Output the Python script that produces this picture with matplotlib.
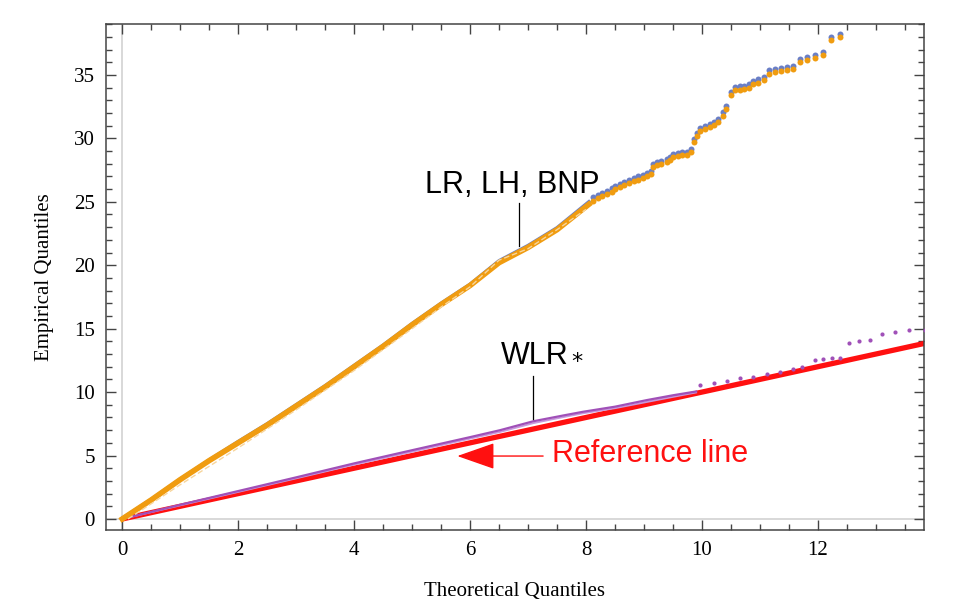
import matplotlib
matplotlib.use("Agg")
import matplotlib.pyplot as plt
from matplotlib.ticker import MultipleLocator

# LR / LH / BNP quantiles (dense part, drawn as lines)
dense_x = [0.0, 0.5, 1.0, 1.5, 2.0, 2.5, 3.0, 3.5, 4.0, 4.5, 5.0, 5.5, 6.0, 6.5, 7.0, 7.5, 8.05]
lh_dense_y = [0.0, 1.5, 3.1, 4.6, 6.0, 7.4, 8.9, 10.4, 12.0, 13.6, 15.3, 16.9, 18.4, 20.2, 21.4, 22.8, 24.8]
lr_dense_y = [0.05, 1.55, 3.15, 4.65, 6.1, 7.5, 9.0, 10.5, 12.1, 13.7, 15.4, 17.0, 18.5, 20.35, 21.55, 22.95, 25.0]
bnp_x = [0.1, 1.0, 2.0, 3.0, 4.0, 5.0, 5.5, 6.0, 6.5, 7.0, 7.5, 8.0]
bnp_y = [0.0, 2.7, 5.6, 8.6, 11.7, 15.0, 16.7, 18.3, 20.4, 21.3, 22.8, 24.4]

# LR / LH sparse tail (drawn as points)
tail_x = [8.12, 8.2, 8.28, 8.36, 8.44, 8.5, 8.58, 8.66, 8.74, 8.82, 8.9, 8.98,
          9.05, 9.12, 9.16, 9.22, 9.3, 9.39, 9.45, 9.5, 9.58, 9.66, 9.74, 9.81,
          9.86, 9.91, 9.97, 10.05, 10.14, 10.2, 10.28, 10.36, 10.42, 10.5, 10.57,
          10.66, 10.73, 10.81, 10.88, 10.97, 11.07, 11.16, 11.26, 11.36, 11.47,
          11.57, 11.69, 11.82, 11.95, 12.08, 12.22, 12.38]
lh_tail_y = [25.1, 25.3, 25.45, 25.6, 25.8, 26.0, 26.15, 26.3, 26.5, 26.6, 26.75, 26.9,
             27.05, 27.2, 27.75, 27.9, 28.0, 28.1, 28.3, 28.55, 28.6, 28.65, 28.7, 28.9,
             29.7, 30.2, 30.55, 30.7, 30.9, 31.05, 31.3, 31.8, 32.3, 33.4, 33.8,
             33.85, 33.9, 34.0, 34.3, 34.4, 34.6, 35.1, 35.2, 35.3, 35.4,
             35.45, 36.0, 36.2, 36.35, 36.55, 37.75, 37.95]
lr_tail_y = [25.35, 25.55, 25.7, 25.85, 26.05, 26.25, 26.4, 26.55, 26.75, 26.85, 27.0, 27.15,
             27.3, 27.45, 28.0, 28.15, 28.25, 28.35, 28.55, 28.8, 28.85, 28.9, 28.95, 29.15,
             29.95, 30.45, 30.8, 30.95, 31.15, 31.3, 31.55, 32.05, 32.55, 33.65, 34.05,
             34.1, 34.15, 34.25, 34.55, 34.65, 34.85, 35.35, 35.45, 35.55, 35.65,
             35.7, 36.25, 36.45, 36.6, 36.8, 38.0, 38.2]

# WLR* quantiles
wlr_x = [0.0, 1.0, 2.0, 3.0, 4.0, 5.0, 6.0, 6.52, 7.09, 7.6, 7.95, 8.5, 9.05, 9.5, 9.9]
wlr_y = [0.0, 1.12, 2.2, 3.28, 4.38, 5.42, 6.45, 7.0, 7.7, 8.15, 8.45, 8.85, 9.37, 9.75, 10.05]
wlr2_y = [0.0, 1.07, 2.13, 3.2, 4.28, 5.3, 6.33, 6.86, 7.55, 8.02, 8.33, 8.73, 9.22, 9.62, 9.97]
wlr_tail_x = [9.97, 10.2, 10.43, 10.66, 10.88, 11.12, 11.34, 11.57, 11.72, 11.95, 12.09,
              12.24, 12.38, 12.54, 12.71, 12.9, 13.1, 13.33, 13.57, 13.84]
wlr_tail_y = [10.55, 10.7, 10.9, 11.1, 11.2, 11.4, 11.6, 11.8, 12.0, 12.5, 12.6,
              12.65, 12.7, 13.9, 14.0, 14.1, 14.6, 14.75, 14.9, 14.9]

ref_x = [0.0, 13.84]
ref_y = [0.0, 13.84]

ORANGE = "#f09c10"
BLUE = "#6a7fc6"
PURPLE = "#a050b8"
RED = "#ff1010"
SERIF = ["Liberation Serif", "DejaVu Serif"]
SANS = ["Liberation Sans", "DejaVu Sans"]

fig = plt.figure(figsize=(9.55, 6.04), dpi=100)
ax = fig.add_axes([0.111, 0.1225, 0.8565, 0.8375])

ax.axhline(0, color="#d6d6d6", linewidth=1.3, zorder=0)
ax.axvline(0, color="#d6d6d6", linewidth=1.3, zorder=0)

# reference line
ax.plot(ref_x, ref_y, color=RED, linewidth=3.8, solid_capstyle="butt", zorder=2)

# WLR*
ax.plot(wlr_x, wlr2_y, color="#c898dc", linewidth=1.3, zorder=3)
ax.plot(wlr_x, wlr_y, color=PURPLE, linewidth=1.6, zorder=3)
ax.plot(wlr_tail_x, wlr_tail_y, linestyle="none", marker="o", markersize=3.0,
        color=PURPLE, markeredgewidth=0, zorder=3)

# LR, LH, BNP
ax.plot(dense_x, lr_dense_y, color=BLUE, linewidth=2.5, zorder=4)
ax.plot(dense_x, lh_dense_y, color=ORANGE, linewidth=4.0, zorder=5)
ax.plot(bnp_x, bnp_y, color="#f7d59c", linewidth=1.0, linestyle=(0, (4, 2)), zorder=6)
ax.plot(tail_x, lr_tail_y, linestyle="none", marker="o", markersize=4.3,
        color=BLUE, markeredgewidth=0, zorder=4)
ax.plot(tail_x, lh_tail_y, linestyle="none", marker="o", markersize=4.3,
        color=ORANGE, markeredgewidth=0, zorder=5)

# labels on the plot
ax.text(6.72, 26.3, "LR, LH, BNP", fontsize=22, family=SANS,
        ha="center", va="center", zorder=7)
ax.plot([6.85, 6.85], [24.9, 21.5], color="black", linewidth=0.9, zorder=7)
ax.text(7.12, 12.85, "WLR", fontsize=22, family=SANS,
        ha="center", va="center", zorder=7)
ax.text(7.84, 12.9, "\u204e", fontsize=16, family=["DejaVu Sans"],
        ha="center", va="center", zorder=7)
ax.plot([7.09, 7.09], [11.3, 7.85], color="black", linewidth=0.9, zorder=7)
ax.text(9.1, 5.15, "Reference line", fontsize=22, family=SANS, color=RED,
        ha="center", va="center", zorder=7)
ax.annotate("", xy=(5.78, 4.96), xytext=(7.26, 4.96),
            arrowprops=dict(arrowstyle="-|>,head_length=1.2,head_width=0.42",
                            mutation_scale=20, color=RED, linewidth=1.0,
                            shrinkA=0, shrinkB=0),
            zorder=7)

ax.set_xlim(-0.28, 13.83)
ax.set_ylim(-0.87, 39.0)
ax.xaxis.set_major_locator(MultipleLocator(2))
ax.xaxis.set_minor_locator(MultipleLocator(0.5))
ax.yaxis.set_major_locator(MultipleLocator(5))
ax.yaxis.set_minor_locator(MultipleLocator(1))
ax.tick_params(which="both", direction="in", top=True, right=True,
               color="#444444", width=1.0)
ax.tick_params(which="major", length=7, labelsize=15, pad=8)
ax.tick_params(which="minor", length=4)
for label in ax.get_xticklabels() + ax.get_yticklabels():
    label.set_family(SERIF)
for spine in ax.spines.values():
    spine.set_color("#444444")
    spine.set_linewidth(1.1)

ax.set_xlabel("Theoretical Quantiles", fontsize=15, family=SERIF, labelpad=16)
ax.set_ylabel("Empirical Quantiles", fontsize=15, family=SERIF, labelpad=14)

fig.savefig("out.png", dpi=100, facecolor="white")
